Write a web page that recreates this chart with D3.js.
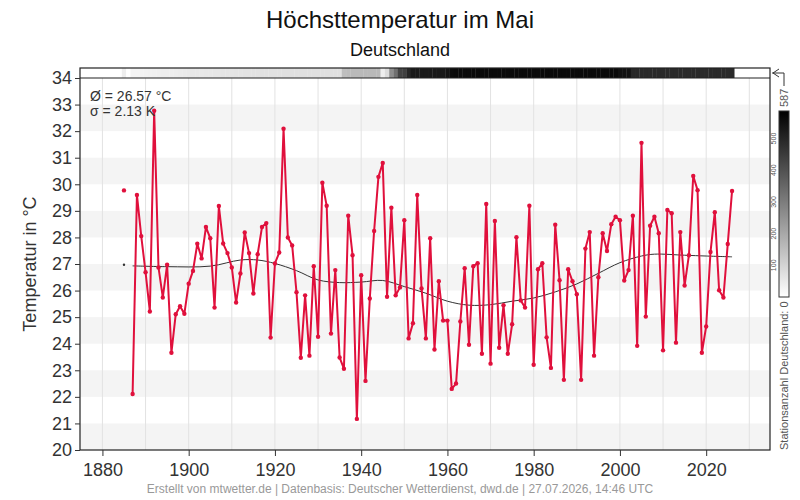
<!DOCTYPE html>
<html>
<head>
<meta charset="utf-8">
<script src="https://cdn.jsdelivr.net/npm/d3@7"></script>
<style>
  body { margin: 0; background: #fff; }
  text { font-family: "Liberation Sans", Arial, sans-serif; }
</style>
</head>
<body>
<div id="chart"></div>
<script>
// Höchsttemperatur im Mai, Deutschland (Jahre ab 1885, 1886 fehlt)
const firstYear = 1885;
const temps = [
  29.77, null, 22.11, 29.60, 28.05, 26.69, 25.21, 32.77, 26.87, 25.74,
  26.97, 23.66, 25.11, 25.41, 25.13, 26.26, 26.74, 27.76, 27.21, 28.39,
  27.97, 25.36, 29.18, 27.77, 27.41, 26.87, 25.55, 26.64, 28.19, 27.41,
  25.89, 27.37, 28.39, 28.54, 24.23, 27.02, 27.43, 32.09, 28.00, 27.70,
  25.94, 23.47, 25.82, 23.55, 26.92, 24.26, 30.06, 29.19, 24.38, 26.77,
  23.48, 23.06, 28.82, 27.33, 21.17, 26.58, 22.60, 25.70, 28.24, 30.28,
  30.80, 25.77, 29.12, 25.82, 26.12, 28.65, 24.20, 24.77, 29.60, 26.08,
  24.20, 27.97, 23.78, 26.35, 24.87, 24.87, 22.30, 22.50, 24.84, 26.84,
  23.96, 26.92, 27.03, 23.62, 29.26, 23.25, 28.62, 23.85, 25.45, 23.62,
  24.73, 28.01, 25.63, 25.36, 29.19, 23.21, 26.80, 27.03, 24.24, 23.09,
  28.48, 26.39, 22.64, 26.80, 26.35, 25.86, 22.64, 27.58, 28.20, 23.55,
  26.50, 28.16, 27.49, 28.50, 28.78, 28.65, 26.38, 26.77, 28.82, 23.92,
  31.56, 25.02, 28.44, 28.78, 28.16, 23.75, 29.03, 28.91, 24.04, 28.20,
  26.19, 27.33, 30.31, 29.78, 23.66, 24.65, 27.45, 28.95, 26.01, 25.74,
  27.75, 29.75
];

// Stationsanzahl je Jahr (ab 1885)
const stations = [
  40, 0, 25, 25, 28, 30, 32, 34, 36, 38,
  40, 42, 44, 46, 48, 50, 52, 53, 54, 55,
  56, 57, 58, 59, 60, 60, 62, 63, 64, 65,
  66, 67, 68, 68, 69, 70, 70, 71, 71, 72,
  72, 72, 72, 72, 72, 72, 72, 72, 72, 72,
  72, 150, 155, 158, 158, 160, 160, 160, 160, 160,
  40, 80, 260, 330, 430, 440, 500, 530, 530, 530,
  530, 530, 530, 530, 530, 540, 560, 565, 565, 565,
  565, 565, 565, 565, 565, 565, 565, 565, 565, 565,
  565, 565, 565, 565, 565, 565, 565, 565, 565, 565,
  565, 565, 565, 565, 565, 565, 565, 565, 565, 565,
  565, 565, 565, 565, 565, 548, 545, 545, 495, 495,
  492, 492, 490, 490, 490, 490, 490, 490, 490, 490,
  490, 490, 490, 490, 490, 490, 490, 490, 490, 490,
  490, 490
];

// geglätteter Verlauf
const trendYears = [1887, 1895, 1905, 1912, 1916, 1920, 1925, 1930, 1935, 1940, 1945, 1950, 1955, 1960, 1965, 1970, 1975, 1980, 1985, 1990, 1995, 2000, 2005, 2008, 2015, 2020, 2026];
const trendVals  = [26.93, 26.90, 26.92, 27.15, 27.15, 27.02, 26.75, 26.40, 26.30, 26.32, 26.38, 26.15, 25.90, 25.60, 25.45, 25.47, 25.60, 25.72, 25.95, 26.25, 26.65, 27.05, 27.30, 27.37, 27.33, 27.30, 27.27];

const meanText = "Ø = 26.57 °C";
const sigmaText = "σ = 2.13 K";
const maxStations = 587;
const yTicks = d3.range(20, 35, 1);
const xTicks = [1880, 1900, 1920, 1940, 1960, 1980, 2000, 2020];
const xGrid = d3.range(1880, 2031, 10);

const width = 800, height = 500;
const plotL = 80, plotR = 770, plotT = 78, plotB = 450, stripT = 68;

const svg = d3.select("#chart").append("svg")
  .attr("width", width)
  .attr("height", height);

const data = temps.map((t, i) => ({ year: firstYear + i, t: t }));

const x = d3.scaleLinear().domain([1874.8, 2034.8]).range([plotL, plotR]);
const y = d3.scaleLinear().domain([20, 34]).range([plotB, plotT]);
const grey = d3.scaleLinear().domain([0, maxStations]).range(["#ffffff", "#000000"]);

// Streifen (Hintergrund)
svg.append("g")
  .selectAll("rect")
  .data(d3.range(20, 34, 2))
  .enter().append("rect")
  .attr("x", plotL)
  .attr("width", plotR - plotL)
  .attr("y", d => y(d + 1))
  .attr("height", d => y(d) - y(d + 1))
  .attr("fill", "#f4f4f4");

// vertikale Gitterlinien
svg.append("g")
  .selectAll("line")
  .data(xGrid)
  .enter().append("line")
  .attr("x1", d => x(d)).attr("x2", d => x(d))
  .attr("y1", plotT).attr("y2", plotB)
  .attr("stroke", "#e2e2e2")
  .attr("stroke-width", 1);

// Stationsanzahl-Leiste
svg.append("g")
  .selectAll("rect")
  .data(stations.map((n, i) => ({ year: firstYear + i, n: n })))
  .enter().append("rect")
  .attr("x", d => x(d.year - 0.5))
  .attr("width", d => x(d.year + 0.5) - x(d.year - 0.5) + 0.3)
  .attr("y", stripT)
  .attr("height", plotT - stripT)
  .attr("fill", d => grey(d.n));

// Rahmen
svg.append("rect")
  .attr("x", plotL).attr("y", stripT)
  .attr("width", plotR - plotL).attr("height", plotB - stripT)
  .attr("fill", "none").attr("stroke", "#222").attr("stroke-width", 1.2);
svg.append("line")
  .attr("x1", plotL).attr("x2", plotR)
  .attr("y1", plotT).attr("y2", plotT)
  .attr("stroke", "#222").attr("stroke-width", 1.2);

// Achsen
const yAxis = svg.append("g")
  .attr("transform", "translate(" + plotL + ",0)")
  .call(d3.axisLeft(y).tickValues(yTicks).tickSize(5).tickFormat(d3.format("d")));
yAxis.select(".domain").remove();
yAxis.selectAll("text").attr("font-size", 18).attr("fill", "#333")
  .attr("font-family", "Liberation Sans, Arial, sans-serif");
yAxis.selectAll("line").attr("stroke", "#333");

const xAxis = svg.append("g")
  .attr("transform", "translate(0," + plotB + ")")
  .call(d3.axisBottom(x).tickValues(xTicks).tickSize(6).tickFormat(d3.format("d")));
xAxis.select(".domain").remove();
xAxis.selectAll("text").attr("font-size", 18).attr("fill", "#333").attr("dy", "0.95em")
  .attr("font-family", "Liberation Sans, Arial, sans-serif");
xAxis.selectAll("line").attr("stroke", "#333");

// geglättete Linie
const trend = trendYears.map((yr, i) => ({ year: yr, t: trendVals[i] }));
svg.append("path")
  .datum(trend)
  .attr("fill", "none")
  .attr("stroke", "#333")
  .attr("stroke-width", 1)
  .attr("d", d3.line().x(d => x(d.year)).y(d => y(d.t)).curve(d3.curveCatmullRom));
svg.append("circle")
  .attr("cx", x(1885)).attr("cy", y(26.97)).attr("r", 1.2).attr("fill", "#333");

// Temperaturlinie
svg.append("path")
  .datum(data)
  .attr("fill", "none")
  .attr("stroke", "#e0103c")
  .attr("stroke-width", 2)
  .attr("stroke-linejoin", "round")
  .attr("d", d3.line().defined(d => d.t !== null).x(d => x(d.year)).y(d => y(d.t)));

svg.append("g")
  .selectAll("circle")
  .data(data.filter(d => d.t !== null))
  .enter().append("circle")
  .attr("cx", d => x(d.year))
  .attr("cy", d => y(d.t))
  .attr("r", 2.2)
  .attr("fill", "#e0103c");

// Titel
svg.append("text")
  .attr("x", 400).attr("y", 28)
  .attr("text-anchor", "middle")
  .attr("font-size", 24)
  .attr("fill", "#111")
  .text("Höchsttemperatur im Mai");

svg.append("text")
  .attr("x", 400).attr("y", 56)
  .attr("text-anchor", "middle")
  .attr("font-size", 18)
  .attr("fill", "#111")
  .text("Deutschland");

// Achsentitel
svg.append("text")
  .attr("transform", "translate(36," + ((plotT + plotB) / 2) + ") rotate(-90)")
  .attr("text-anchor", "middle")
  .attr("font-size", 18)
  .attr("fill", "#333")
  .text("Temperatur in °C");

// Mittelwert / Standardabweichung
svg.append("text")
  .attr("x", 90).attr("y", 101)
  .attr("font-size", 14).attr("fill", "#333")
  .text(meanText);
svg.append("text")
  .attr("x", 90).attr("y", 116)
  .attr("font-size", 14).attr("fill", "#333")
  .text(sigmaText);

// Legende Stationsanzahl
const legT = 111, legB = 297, legX = 779, legW = 10;
const legY = d3.scaleLinear().domain([0, maxStations]).range([legB, legT]);
const grad = svg.append("defs").append("linearGradient")
  .attr("id", "stgrad").attr("x1", 0).attr("x2", 0).attr("y1", 1).attr("y2", 0);
grad.append("stop").attr("offset", "0%").attr("stop-color", grey(0));
grad.append("stop").attr("offset", "100%").attr("stop-color", grey(maxStations));
svg.append("rect")
  .attr("x", legX).attr("y", legT)
  .attr("width", legW).attr("height", legB - legT)
  .attr("fill", "url(#stgrad)")
  .attr("stroke", "#333").attr("stroke-width", 1);

svg.append("g")
  .selectAll("text")
  .data([100, 200, 300, 400, 500])
  .enter().append("text")
  .attr("transform", d => "translate(" + (legX - 3) + "," + legY(d) + ") rotate(-90)")
  .attr("text-anchor", "middle")
  .attr("font-size", 7)
  .attr("fill", "#555")
  .text(d => d);

svg.append("text")
  .attr("transform", "translate(" + (legX + 9) + "," + (legT - 4) + ") rotate(-90)")
  .attr("text-anchor", "start")
  .attr("font-size", 11)
  .attr("fill", "#555")
  .text(maxStations);

svg.append("path")
  .attr("d", "M" + (plotR + 2) + "," + (stripT + 5) + " H" + (legX + 5) + " V" + (stripT + 18))
  .attr("fill", "none").attr("stroke", "#333").attr("stroke-width", 1);
svg.append("path")
  .attr("d", "M" + (plotR + 9) + "," + (stripT + 1) + " L" + (plotR + 3) + "," + (stripT + 5) + " L" + (plotR + 9) + "," + (stripT + 9))
  .attr("fill", "none").attr("stroke", "#333").attr("stroke-width", 1);

svg.append("text")
  .attr("transform", "translate(" + (legX + 9) + "," + plotB + ") rotate(-90)")
  .attr("text-anchor", "start")
  .attr("font-size", 11)
  .attr("fill", "#555")
  .text("Stationsanzahl Deutschland: 0");

// Fußzeile
svg.append("text")
  .attr("x", 400).attr("y", 493)
  .attr("text-anchor", "middle")
  .attr("font-size", 12)
  .attr("fill", "#999")
  .text("Erstellt von mtwetter.de | Datenbasis: Deutscher Wetterdienst, dwd.de | 27.07.2026, 14:46 UTC");
</script>
</body>
</html>
